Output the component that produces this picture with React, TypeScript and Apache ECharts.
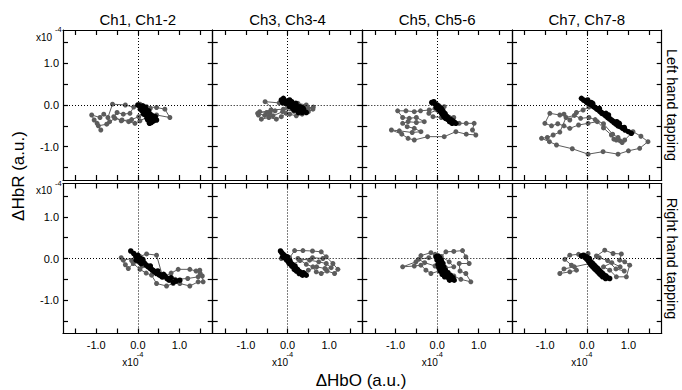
import React, { useEffect, useRef } from "react";
import * as echarts from "echarts";

const COLUMN_TITLES = ["Ch1, Ch1-2", "Ch3, Ch3-4", "Ch5, Ch5-6", "Ch7, Ch7-8"];
const ROW_TITLES = ["Left hand tapping", "Right hand tapping"];
const TICK_VALUES = [-1.5, -1, -0.5, 0, 0.5, 1, 1.5];
const LABEL_VALUES = [-1, 0, 1];
const AXIS_MIN = -1.8;
const AXIS_MAX = 1.8;

const l1Gray = [[0.05,0.02],[0.21,-0.04],[0.45,-0.06],[0.65,-0.10],[0.77,-0.30],[0.45,-0.24],[0.25,-0.28],[0.05,-0.38],[-0.07,-0.44],[-0.22,-0.40],[-0.38,-0.36],[-0.55,-0.32],[-0.68,-0.40],[-0.75,-0.46],[-0.95,-0.50],[-0.89,-0.60],[-0.98,-0.44],[-1.05,-0.36],[-1.11,-0.24],[-0.91,-0.30],[-0.82,-0.22],[-0.72,-0.30],[-0.61,0.02],[-0.30,0.00],[-0.10,-0.05],[-0.19,-0.20],[-0.35,-0.22],[-0.50,-0.18],[-0.58,-0.28],[-0.40,-0.38],[-0.15,-0.35],[0.02,-0.28],[0.15,-0.12],[0.30,-0.08]];
const l1Black = [[0.0,0.0],[0.04,-0.02],[0.08,-0.05],[0.12,-0.02],[0.06,-0.10],[0.10,-0.14],[0.15,-0.10],[0.18,-0.16],[0.14,-0.22],[0.20,-0.25],[0.25,-0.20],[0.28,-0.28],[0.22,-0.32],[0.30,-0.35],[0.35,-0.30],[0.38,-0.38],[0.32,-0.42],[0.40,-0.33],[0.45,-0.36],[0.36,-0.26],[0.26,-0.14],[0.18,-0.06],[0.10,-0.08],[0.16,-0.18],[0.24,-0.36],[0.28,-0.44],[0.34,-0.40],[0.42,-0.28],[0.30,-0.22],[0.20,-0.12]];
const l2Gray = [[0.05,0.05],[0.25,0.04],[0.45,0.00],[0.61,-0.10],[0.50,-0.16],[0.35,-0.22],[0.21,-0.26],[0.05,-0.22],[-0.03,-0.20],[-0.15,-0.28],[-0.27,-0.34],[-0.45,-0.30],[-0.63,-0.34],[-0.70,-0.24],[-0.67,-0.16],[-0.50,-0.18],[-0.43,-0.20],[-0.30,-0.14],[-0.54,0.08],[-0.20,0.05],[0.00,-0.05],[-0.12,-0.16],[-0.35,-0.26],[-0.55,-0.25],[-0.72,-0.20],[-0.40,-0.12],[-0.10,-0.10],[0.15,-0.15],[0.30,-0.12],[0.50,-0.08],[0.62,-0.05]];
const l2Black = [[-0.15,0.12],[-0.10,0.16],[-0.05,0.10],[-0.12,0.06],[0.00,0.08],[0.05,0.12],[0.02,0.02],[0.08,0.04],[0.10,-0.02],[0.15,0.02],[0.12,-0.08],[0.18,-0.06],[0.22,-0.10],[0.20,-0.02],[0.28,-0.08],[0.25,-0.14],[0.32,-0.12],[0.35,-0.18],[0.30,-0.04],[0.40,-0.14],[0.45,-0.18],[0.38,-0.08],[0.20,0.04],[0.05,-0.04],[-0.05,0.04],[0.10,0.08],[0.16,-0.12],[0.26,-0.18],[0.34,-0.06]];
const l3Gray = [[0.05,-0.02],[0.17,-0.04],[-0.05,-0.08],[-0.19,-0.12],[-0.40,-0.14],[-0.55,-0.16],[-0.75,-0.14],[-0.95,-0.14],[-0.83,-0.30],[-0.67,-0.32],[-0.50,-0.30],[-0.31,-0.40],[-0.50,-0.42],[-0.70,-0.40],[-0.83,-0.44],[-0.72,-0.52],[-0.55,-0.56],[-0.39,-0.64],[-0.60,-0.66],[-0.91,-0.62],[-1.10,-0.60],[-0.85,-0.70],[-0.70,-0.80],[-0.55,-0.84],[-0.23,-0.76],[0.17,-0.76],[0.45,-0.64],[0.70,-0.70],[0.93,-0.72],[0.85,-0.60],[0.89,-0.44],[0.70,-0.44],[0.53,-0.44],[0.30,-0.36],[0.10,-0.30],[-0.10,-0.28],[-0.20,-0.20],[0.00,-0.12],[0.20,-0.20],[0.40,-0.30]];
const l3Black = [[-0.13,0.06],[-0.08,0.08],[-0.05,0.02],[0.00,0.00],[-0.02,-0.06],[0.04,-0.04],[0.06,-0.10],[0.10,-0.08],[0.08,-0.16],[0.14,-0.14],[0.12,-0.22],[0.18,-0.20],[0.16,-0.28],[0.22,-0.26],[0.20,-0.32],[0.26,-0.30],[0.28,-0.36],[0.32,-0.34],[0.34,-0.40],[0.38,-0.38],[0.42,-0.42],[0.45,-0.44],[0.36,-0.44],[0.30,-0.40],[0.24,-0.34],[0.18,-0.24],[0.10,-0.18],[0.04,-0.12],[0.00,-0.04],[-0.06,0.04]];
const l4Gray = [[0.05,-0.05],[-0.09,-0.12],[-0.25,-0.18],[-0.41,-0.36],[-0.55,-0.22],[-0.65,-0.24],[-0.89,-0.20],[-1.01,-0.44],[-0.85,-0.50],[-0.70,-0.45],[-0.55,-0.50],[-0.41,-0.56],[-0.20,-0.48],[0.03,-0.44],[0.25,-0.40],[0.40,-0.55],[0.59,-0.72],[0.65,-0.82],[0.71,-0.84],[0.80,-0.86],[0.91,-0.84],[1.11,-0.64],[1.30,-0.75],[1.47,-0.88],[1.27,-1.04],[1.00,-1.10],[0.75,-1.18],[0.39,-1.12],[0.03,-1.18],[-0.35,-1.05],[-0.73,-0.96],[-0.90,-0.88],[-1.09,-0.80],[-0.95,-0.78],[-0.81,-0.72],[-0.65,-0.65],[-0.50,-0.30],[-0.30,-0.25],[-0.15,-0.32],[0.05,-0.30],[0.20,-0.35],[0.40,-0.45],[0.62,-0.70],[0.75,-0.78],[0.85,-0.90]];
const l4Black = [[-0.13,0.16],[-0.08,0.12],[-0.04,0.10],[0.00,0.06],[0.04,0.04],[0.08,0.02],[0.12,0.00],[0.16,-0.04],[0.20,-0.06],[0.24,-0.10],[0.28,-0.12],[0.32,-0.16],[0.36,-0.20],[0.40,-0.22],[0.45,-0.26],[0.50,-0.30],[0.55,-0.34],[0.60,-0.38],[0.65,-0.42],[0.70,-0.46],[0.75,-0.50],[0.80,-0.52],[0.86,-0.56],[0.92,-0.60],[1.00,-0.64],[1.07,-0.68],[0.90,-0.54],[0.72,-0.40],[0.52,-0.24],[0.30,-0.08],[0.10,0.06],[0.02,0.12],[0.14,0.04],[0.46,-0.20],[0.78,-0.44]];

const r1Gray = [[-0.05,0.02],[-0.35,-0.04],[-0.40,0.02],[-0.30,-0.15],[-0.23,-0.24],[-0.11,-0.12],[0.05,-0.26],[0.20,-0.35],[0.33,-0.40],[0.45,-0.60],[0.69,-0.66],[0.85,-0.60],[1.01,-0.60],[1.25,-0.66],[1.45,-0.56],[1.57,-0.56],[1.55,-0.42],[1.49,-0.28],[1.40,-0.30],[1.25,-0.26],[0.97,-0.26],[0.80,-0.35],[0.60,-0.45],[0.45,0.08],[0.21,0.11],[0.05,0.05],[-0.15,-0.05],[0.10,-0.18],[0.35,-0.30],[0.55,-0.40],[0.90,-0.50],[1.20,-0.48],[1.45,-0.44],[1.50,-0.36]];
const r1Black = [[-0.17,0.18],[-0.10,0.12],[-0.05,0.06],[0.00,0.02],[-0.04,-0.04],[0.02,-0.06],[0.06,0.00],[0.10,-0.06],[0.08,-0.12],[0.15,-0.10],[0.20,-0.16],[0.25,-0.20],[0.30,-0.24],[0.35,-0.28],[0.40,-0.32],[0.45,-0.36],[0.52,-0.40],[0.58,-0.44],[0.65,-0.42],[0.70,-0.48],[0.75,-0.52],[0.85,-0.57],[0.92,-0.54],[1.01,-0.52],[0.80,-0.46],[0.62,-0.38],[0.48,-0.30],[0.30,-0.18],[0.12,-0.02],[0.00,0.08]];
const r2Gray = [[-0.15,0.00],[0.05,0.02],[0.17,0.19],[0.37,0.19],[0.60,0.18],[0.81,0.16],[0.93,0.04],[1.09,-0.12],[1.21,-0.26],[1.13,-0.36],[0.95,-0.30],[0.81,-0.36],[0.69,-0.32],[0.61,-0.20],[0.45,-0.14],[0.25,0.00],[0.53,-0.04],[0.75,-0.08],[0.93,-0.12],[1.05,-0.22],[0.90,-0.24],[0.70,-0.20],[0.50,-0.28],[0.35,-0.36],[0.20,-0.30],[0.10,-0.15],[0.30,-0.05],[0.60,0.02],[0.85,0.00]];
const r2Black = [[-0.17,0.18],[-0.14,0.14],[-0.10,0.10],[-0.12,0.04],[-0.06,0.06],[-0.04,0.00],[0.00,-0.02],[0.02,-0.08],[0.06,-0.06],[0.08,-0.12],[0.12,-0.14],[0.14,-0.20],[0.18,-0.18],[0.20,-0.24],[0.24,-0.26],[0.26,-0.30],[0.30,-0.32],[0.34,-0.36],[0.38,-0.34],[0.42,-0.38],[0.45,-0.40],[0.36,-0.40],[0.28,-0.36],[0.22,-0.30],[0.16,-0.26],[0.10,-0.18],[0.04,-0.12],[-0.02,-0.04],[-0.08,0.02],[0.00,0.04]];
const r3Gray = [[-0.05,0.10],[-0.15,0.14],[-0.39,0.07],[-0.51,-0.08],[-0.83,-0.20],[-0.55,-0.18],[-0.39,-0.16],[-0.27,-0.28],[-0.15,-0.36],[0.05,-0.30],[0.21,-0.36],[0.40,-0.42],[0.57,-0.50],[0.81,-0.56],[0.69,-0.36],[0.55,-0.30],[0.53,-0.12],[0.77,-0.12],[0.69,0.04],[0.61,0.19],[0.40,0.17],[0.21,0.16],[0.10,0.05],[0.29,-0.08],[0.40,-0.20],[0.20,-0.22],[-0.05,-0.18],[-0.30,-0.10],[-0.45,-0.02],[-0.20,0.02]];
const r3Black = [[-0.03,0.04],[0.02,0.06],[0.06,0.02],[0.00,-0.04],[0.05,-0.08],[0.10,-0.04],[0.02,-0.14],[0.08,-0.16],[0.14,-0.12],[0.04,-0.22],[0.10,-0.24],[0.16,-0.20],[0.08,-0.30],[0.14,-0.32],[0.20,-0.28],[0.12,-0.38],[0.20,-0.38],[0.26,-0.34],[0.18,-0.44],[0.26,-0.44],[0.32,-0.40],[0.28,-0.48],[0.34,-0.48],[0.38,-0.46],[0.41,-0.52],[0.30,-0.52],[0.22,-0.40],[0.12,-0.26],[0.06,-0.12],[0.00,0.00]];
const r4Gray = [[0.03,0.12],[-0.20,0.10],[-0.41,0.08],[-0.53,-0.02],[-0.37,-0.16],[-0.25,-0.28],[-0.41,-0.32],[-0.65,-0.36],[-0.55,-0.25],[-0.30,-0.20],[0.07,-0.12],[0.23,0.06],[0.43,0.20],[0.63,0.12],[0.83,0.11],[0.79,-0.04],[0.91,-0.08],[1.03,-0.16],[0.95,-0.44],[0.71,-0.44],[0.55,-0.28],[0.40,-0.20],[0.60,-0.10],[0.80,-0.20],[0.90,-0.30],[0.70,-0.25],[0.50,-0.05],[0.30,0.02]];
const r4Black = [[-0.13,0.06],[-0.08,0.08],[-0.04,0.02],[0.00,-0.02],[0.04,-0.06],[0.06,0.00],[0.10,-0.08],[0.14,-0.12],[0.10,-0.16],[0.18,-0.16],[0.22,-0.20],[0.18,-0.24],[0.26,-0.24],[0.30,-0.28],[0.26,-0.32],[0.34,-0.32],[0.38,-0.36],[0.34,-0.40],[0.42,-0.40],[0.46,-0.42],[0.50,-0.46],[0.55,-0.48],[0.45,-0.48],[0.38,-0.44],[0.30,-0.36],[0.22,-0.28],[0.14,-0.20],[0.06,-0.10],[0.00,0.04]];

const GRAY_SERIES = [l1Gray, l2Gray, l3Gray, l4Gray, r1Gray, r2Gray, r3Gray, r4Gray];
const BLACK_SERIES = [l1Black, l2Black, l3Black, l4Black, r1Black, r2Black, r3Black, r4Black];

const COL_LEFT = [63, 212.7, 362.3, 512];
const ROW_TOP = [30, 183.5];
const PW = 149.7;
const PH = 150;
const FONT = '"Liberation Sans", Arial, Helvetica, sans-serif';
const GRAY = "#5c5c5c";

function formatTick(v: number) {
  const hit = LABEL_VALUES.some((l) => Math.abs(l - v) < 1e-9);
  return hit ? Number(v).toFixed(1) : "";
}

function axisCfg(gi: number, position: string, showLabels: boolean, margin: number) {
  return {
    type: "value",
    gridIndex: gi,
    position,
    min: AXIS_MIN,
    max: AXIS_MAX,
    axisLine: { show: true, onZero: false, lineStyle: { color: "#000", width: 1.2 } },
    axisTick: { show: true, inside: true, length: 5, customValues: TICK_VALUES, lineStyle: { color: "#000", width: 1.2 } },
    axisLabel: {
      show: showLabels,
      formatter: formatTick,
      showMinLabel: false,
      showMaxLabel: false,
      margin,
      color: "#000",
      fontSize: 11,
      fontFamily: FONT,
    },
    splitLine: { show: false },
  };
}

function text(x: number, y: number, s: string, size: number, extra: any = {}) {
  return {
    type: "text",
    x,
    y,
    silent: true,
    ...extra,
    style: {
      text: s,
      fill: "#000",
      font: `${size}px ${FONT}`,
      align: extra.align || "center",
      verticalAlign: extra.verticalAlign || "middle",
    },
  };
}

export default function App() {
  const ref = useRef<HTMLDivElement>(null);

  useEffect(() => {
    if (!ref.current) return;
    const chart = echarts.init(ref.current, undefined, { renderer: "svg" });

    const grids: any[] = [];
    const xAxes: any[] = [];
    const yAxes: any[] = [];
    const series: any[] = [];
    const graphics: any[] = [];

    for (let r = 0; r < 2; r++) {
      for (let c = 0; c < 4; c++) {
        const gi = r * 4 + c;
        grids.push({ left: COL_LEFT[c], top: ROW_TOP[r], width: PW, height: PH, show: false });
        xAxes.push(axisCfg(gi, "bottom", r === 1, 6));
        xAxes.push(axisCfg(gi, "top", false, 6));
        yAxes.push(axisCfg(gi, "left", c === 0, 4));
        yAxes.push(axisCfg(gi, "right", false, 4));

        series.push({
          type: "line",
          xAxisIndex: gi * 2,
          yAxisIndex: gi * 2,
          data: GRAY_SERIES[gi],
          symbol: "circle",
          symbolSize: 5,
          showSymbol: true,
          itemStyle: { color: GRAY },
          lineStyle: { color: GRAY, width: 1 },
          silent: true,
          z: 2,
          markLine: {
            silent: true,
            symbol: ["none", "none"],
            label: { show: false },
            lineStyle: { color: "#000", width: 1, type: [1, 2] },
            data: [{ xAxis: 0 }, { yAxis: 0 }],
          },
        });
        series.push({
          type: "line",
          xAxisIndex: gi * 2,
          yAxisIndex: gi * 2,
          data: BLACK_SERIES[gi],
          symbol: "circle",
          symbolSize: 5.5,
          showSymbol: true,
          itemStyle: { color: "#000" },
          lineStyle: { color: "#000", width: 1.2 },
          silent: true,
          z: 3,
        });

        if (r === 1) {
          const cx = COL_LEFT[c] + PW / 2;
          graphics.push(text(cx - 15.5, 362.5, "x10", 10, { align: "left" }));
          graphics.push(text(cx - 1, 354.5, "-4", 7.5, { align: "left" }));
        }
      }
      graphics.push(text(36, ROW_TOP[r] + 7, "x10", 10, { align: "left" }));
      graphics.push(text(55, ROW_TOP[r] - 0.5, "-4", 7.5, { align: "left" }));
      graphics.push(text(672, ROW_TOP[r] + PH / 2, ROW_TITLES[r], 14.5, { rotation: -Math.PI / 2 }));
    }

    for (let c = 0; c < 4; c++) {
      graphics.push(text(COL_LEFT[c] + PW / 2, 19, COLUMN_TITLES[c], 15));
    }
    graphics.push(text(18, 176, "ΔHbR (a.u.)", 17, { rotation: Math.PI / 2 }));
    graphics.push(text(361, 380, "ΔHbO (a.u.)", 17));

    chart.setOption({
      animation: false,
      backgroundColor: "#fff",
      grid: grids,
      xAxis: xAxes,
      yAxis: yAxes,
      series,
      graphic: graphics,
    });

    return () => chart.dispose();
  }, []);

  return (
    <div
      ref={ref}
      style={{ position: "fixed", left: 0, top: 0, width: 682, height: 390, background: "#fff" }}
    />
  );
}
